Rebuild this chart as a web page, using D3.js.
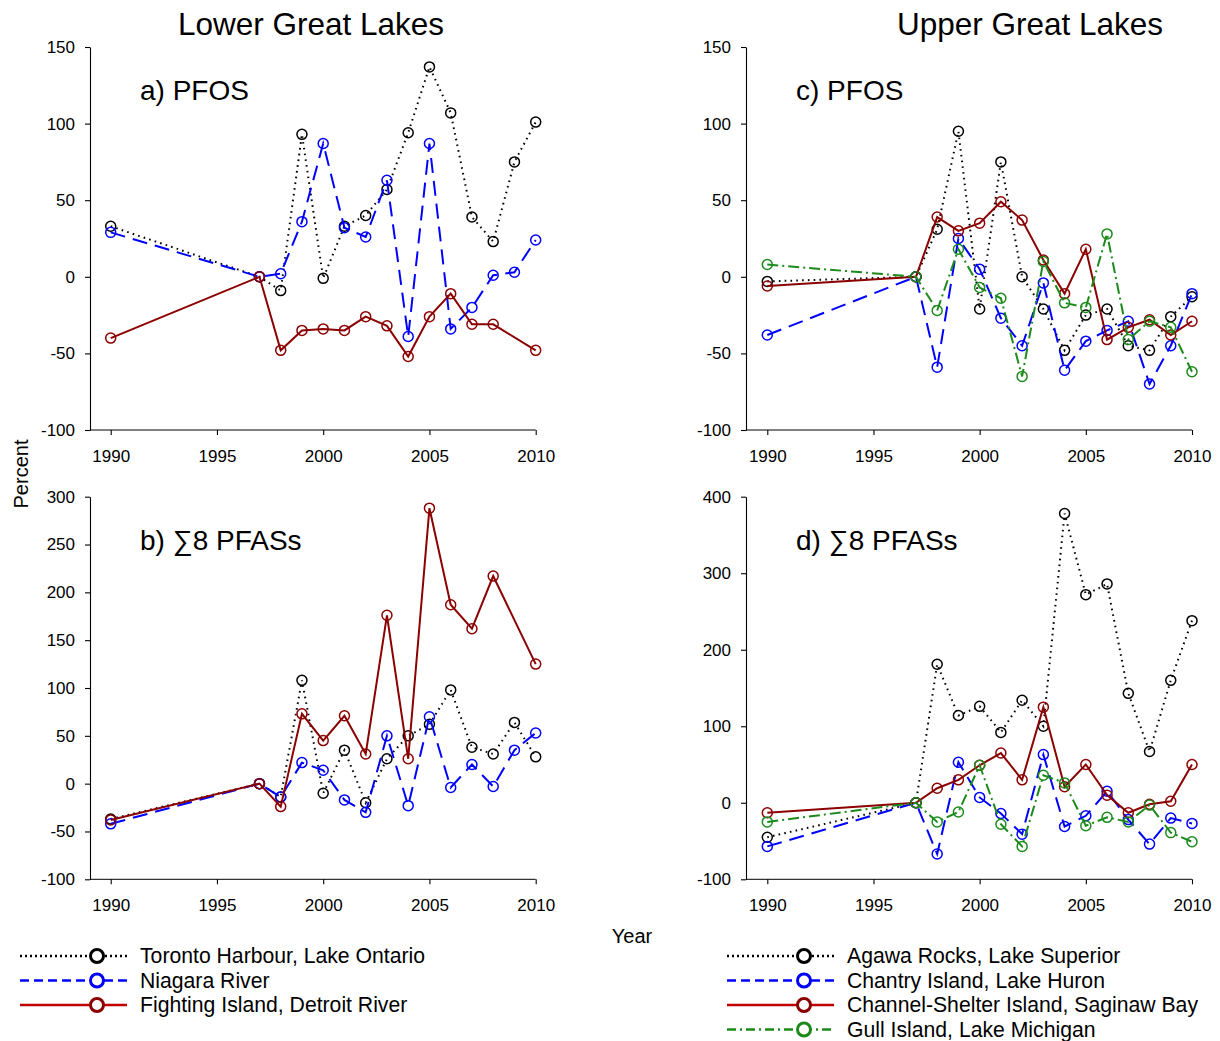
<!DOCTYPE html>
<html>
<head>
<meta charset="utf-8">
<script src="https://cdn.jsdelivr.net/npm/d3@7"></script>
<style>
  body { margin: 0; background: #fff; }
  svg text { font-family: "Liberation Sans", Arial, Helvetica, sans-serif; fill: #000; }
</style>
</head>
<body>
<div id="chart"></div>
<script>
// sampling years (no 1991-1996)
const years = [1990, 1997, 1998, 1999, 2000, 2001, 2002, 2003, 2004, 2005, 2006, 2007, 2008, 2009, 2010];

// a) Lower lakes, PFOS (% change)
const torontoPFOS = [33, 0, -9, 93, -1, 33, 40, 57, 94, 137, 107, 39, 23, 75, 101];
const niagaraPFOS = [29, 0, 2, 36, 87, 32, 26, 63, -39, 87, -34, -20, 1, 3, 24];
const fightingPFOS = [-40, 0, -48, -35, -34, -35, -26, -32, -52, -26, -11, -31, -31, null, -48];

// b) Lower lakes, sum of 8 PFASs
const torontoSum = [-37, 0, -14, 108, -10, 35, -20, 26, 50, 62, 98, 38, 31, 64, 28];
const niagaraSum = [-42, 0, -14, 22, 14, -17, -30, 50, -23, 70, -4, 20, -3, 35, 53];
const fightingSum = [-38, 0, -24, 73, 45, 71, 31, 176, 26, 288, 187, 162, 217, null, 125];

// c) Upper lakes, PFOS
const agawaPFOS = [-3, 0, 31, 95, -21, 75, 0, -21, -48, -25, -21, -45, -48, -26, -13];
const chantryPFOS = [-38, 0, -59, 25, 5, -27, -45, -4, -61, -42, -35, -29, -70, -45, -11];
const channelPFOS = [-6, 0, 39, 30, 35, 49, 37, 11, -11, 18, -41, -33, -28, -38, -29];
const gullPFOS = [8, 0, -22, 18, -7, -14, -65, 10, -17, -20, 28, -41, -29, -33, -62];

// d) Upper lakes, sum of 8 PFASs
const agawaSum = [-45, 0, 181, 114, 126, 92, 134, 100, 378, 272, 286, 143, 67, 160, 238];
const chantrySum = [-57, 0, -67, 53, 7, -14, -41, 63, -31, -17, 15, -22, -54, -20, -27];
const channelSum = [-13, 0, 19, 30, 49, 65, 30, 125, 21, 50, 10, -13, -2, 2, 50];
const gullSum = [-25, 0, -25, -12, 49, -28, -57, 36, 26, -30, -19, -25, -3, -39, -51];

const xTicks = [1990, 1995, 2000, 2005, 2010];

const styles = {
  black: { color: '#000', dash: '1.6,4.2', legendLine: '#000' },
  blue: { color: '#0000ff', dash: '15,8', legendLine: '#0000ff' },
  red: { color: '#8b0000', dash: null, legendLine: '#c00000' },
  green: { color: '#1b8a1b', dash: '11,4,2,4', legendLine: '#1b8a1b' }
};

const w = 1220;
const h = 1041;
const svg = d3.select('#chart').append('svg')
  .attr('width', w)
  .attr('height', h);

const panels = [
  { label: 'a)', name: 'PFOS', axisX: 90, xr: [110.7, 535.7], yd: [-100, 150], yr: [430, 47], yt: d3.range(-100, 151, 50),
    series: [['black', torontoPFOS], ['blue', niagaraPFOS], ['red', fightingPFOS]] },
  { label: 'b)', name: '\u22118 PFASs', axisX: 90, xr: [110.7, 535.7], yd: [-100, 300], yr: [879.3, 496.7], yt: d3.range(-100, 301, 50),
    series: [['black', torontoSum], ['blue', niagaraSum], ['red', fightingSum]] },
  { label: 'c)', name: 'PFOS', axisX: 746, xr: [767.3, 1192], yd: [-100, 150], yr: [430, 47], yt: d3.range(-100, 151, 50),
    series: [['black', agawaPFOS], ['blue', chantryPFOS], ['red', channelPFOS], ['green', gullPFOS]] },
  { label: 'd)', name: '\u22118 PFASs', axisX: 746, xr: [767.3, 1192], yd: [-100, 400], yr: [879.3, 496.7], yt: d3.range(-100, 401, 100),
    series: [['black', agawaSum], ['blue', chantrySum], ['red', channelSum], ['green', gullSum]] }
];

panels.forEach(p => {
  const xScale = d3.scaleLinear().domain([1990, 2010]).range(p.xr);
  const yScale = d3.scaleLinear().domain(p.yd).range(p.yr);
  const g = svg.append('g');

  // y axis
  const yAxis = d3.axisLeft(yScale)
    .tickValues(p.yt)
    .tickSize(5)
    .tickSizeOuter(0)
    .tickPadding(10)
    .tickFormat(d => String(d));
  const yg = g.append('g')
    .attr('transform', 'translate(' + p.axisX + ',0)')
    .call(yAxis);
  yg.selectAll('text').style('font-size', '17px');

  // x axis
  const xAxis = d3.axisBottom(xScale)
    .tickValues(xTicks)
    .tickSize(5)
    .tickPadding(15)
    .tickFormat(d => String(d));
  const xg = g.append('g')
    .attr('transform', 'translate(0,' + yScale(p.yd[0]) + ')')
    .call(xAxis);
  xg.select('.domain').remove();
  xg.selectAll('text').style('font-size', '17px');
  g.append('line')
    .attr('x1', p.axisX)
    .attr('x2', xScale(2010))
    .attr('y1', yScale(p.yd[0]))
    .attr('y2', yScale(p.yd[0]))
    .attr('stroke', '#000');
  g.selectAll('.domain, .tick line').attr('stroke', '#000').attr('stroke-width', 1.1);

  // panel label
  const lab = g.append('text')
    .attr('x', p.axisX + 50)
    .attr('y', yScale(p.yd[1]) + 53)
    .style('font-size', '28px');
  lab.append('tspan').text(p.label + ' ');
  lab.append('tspan').text(p.name);

  const line = d3.line()
    .x(d => xScale(d[0]))
    .y(d => yScale(d[1]));

  p.series.forEach(([key, values]) => {
    const st = styles[key];
    const pts = years.map((yr, i) => [yr, values[i]]).filter(d => d[1] != null);
    g.append('path')
      .datum(pts)
      .attr('d', line)
      .attr('fill', 'none')
      .attr('stroke', st.color)
      .attr('stroke-width', 2)
      .attr('stroke-dasharray', st.dash);
    g.selectAll(null)
      .data(pts)
      .enter()
      .append('circle')
      .attr('cx', d => xScale(d[0]))
      .attr('cy', d => yScale(d[1]))
      .attr('r', 5)
      .attr('fill', 'none')
      .attr('stroke', st.color)
      .attr('stroke-width', 1.5);
  });
});

// headings
svg.append('text')
  .attr('x', 311)
  .attr('y', 35)
  .attr('text-anchor', 'middle')
  .style('font-size', '31.5px')
  .text('Lower Great Lakes');
svg.append('text')
  .attr('x', 1030)
  .attr('y', 35)
  .attr('text-anchor', 'middle')
  .style('font-size', '31.5px')
  .text('Upper Great Lakes');

svg.append('text')
  .attr('transform', 'translate(28,474) rotate(-90)')
  .attr('text-anchor', 'middle')
  .style('font-size', '20px')
  .text('Percent');
svg.append('text')
  .attr('x', 632)
  .attr('y', 943)
  .attr('text-anchor', 'middle')
  .style('font-size', '20px')
  .text('Year');

// legends
const lowerLegend = [['black', 'Toronto Harbour, Lake Ontario'], ['blue', 'Niagara River'], ['red', 'Fighting Island, Detroit River']];
const upperLegend = [['black', 'Agawa Rocks, Lake Superior'], ['blue', 'Chantry Island, Lake Huron'], ['red', 'Channel-Shelter Island, Saginaw Bay'], ['green', 'Gull Island, Lake Michigan']];

function drawLegend(items, x0) {
  const lg = svg.append('g').attr('transform', 'translate(' + x0 + ',956)');
  const rows = lg.selectAll('g')
    .data(items)
    .enter()
    .append('g')
    .attr('transform', (d, i) => 'translate(0,' + (i * 24.5) + ')');
  rows.append('line')
    .attr('x1', 0)
    .attr('x2', 107)
    .attr('stroke', d => styles[d[0]].legendLine)
    .attr('stroke-width', 2.5)
    .attr('stroke-dasharray', d => d[0] === 'black' ? '2,3' : d[0] === 'blue' ? '9,5' : d[0] === 'green' ? '9,4,2,4' : null);
  rows.append('circle')
    .attr('cx', 77)
    .attr('r', 6.5)
    .attr('fill', '#fff')
    .attr('stroke', d => styles[d[0]].color)
    .attr('stroke-width', 3);
  rows.append('text')
    .attr('x', 120)
    .attr('dy', '0.35em')
    .style('font-size', '21.2px')
    .text(d => d[1]);
}
drawLegend(lowerLegend, 20);
drawLegend(upperLegend, 727);
</script>
</body>
</html>
